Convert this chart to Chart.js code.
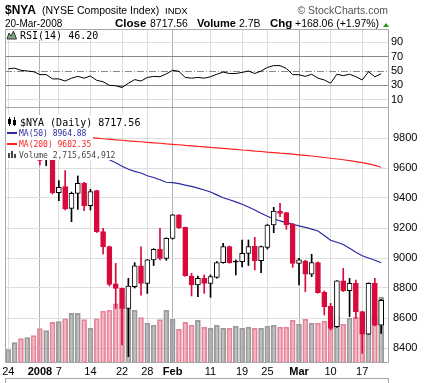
<!DOCTYPE html>
<html>
<head>
<meta charset="utf-8">
<script src="https://cdn.jsdelivr.net/npm/chart.js@4.4.0/dist/chart.umd.min.js"></script>
<style>
  html, body { margin: 0; padding: 0; background: #fff; width: 427px; height: 383px; overflow: hidden; }
  #rsi { position: absolute; left: 0; top: 0; }
  #price { position: absolute; left: 0; top: 108px; }
</style>
</head>
<body>
<canvas id="rsi" width="427" height="108"></canvas>
<canvas id="price" width="427" height="275"></canvas>
<script>
// trading days 24-Dec-2007 .. 20-Mar-2008
const days = ['Dec 24','Dec 26','Dec 27','Dec 28','Dec 31','Jan 2','Jan 3','Jan 4','Jan 7','Jan 8',
  'Jan 9','Jan 10','Jan 11','Jan 14','Jan 15','Jan 16','Jan 17','Jan 18','Jan 22','Jan 23',
  'Jan 24','Jan 25','Jan 28','Jan 29','Jan 30','Jan 31','Feb 1','Feb 4','Feb 5','Feb 6',
  'Feb 7','Feb 8','Feb 11','Feb 12','Feb 13','Feb 14','Feb 15','Feb 19','Feb 20','Feb 21',
  'Feb 22','Feb 25','Feb 26','Feb 27','Feb 28','Feb 29','Mar 3','Mar 4','Mar 5','Mar 6',
  'Mar 7','Mar 10','Mar 11','Mar 12','Mar 13','Mar 14','Mar 17','Mar 18','Mar 19','Mar 20'];

const opens = [9860,9880,9895,9770,9800,9740,9665,9653,9436,9476,
  9331,9431,9498,9349,9449,9176,9076,8827,8798,8664,
  8809,8947,8831,8987,9058,8998,9131,9287,9204,8880,
  8820,8864,8831,8871,8969,9076,8980,8976,9031,9080,
  8982,9071,9220,9313,9302,9227,8964,8980,8893,8969,
  8771,8680,8542,8847,8782,8831,8642,8493,8831,8553];
const highs = [9905,9915,9900,9815,9805,9745,9700,9660,9516,9582,
  9440,9547,9505,9458,9452,9198,9080,8964,8800,8864,
  8969,9075,8990,9062,9198,9135,9290,9290,9206,8898,
  8880,8887,8887,8976,9098,9080,8987,9120,9120,9138,
  9080,9225,9338,9364,9305,9230,8998,8985,9025,8975,
  8780,8698,8850,8931,8864,8853,8645,8835,8864,8724];
const lows = [9840,9870,9750,9750,9730,9620,9615,9427,9382,9320,
  9242,9324,9316,9320,9170,9027,8813,8664,8420,8342,
  8800,8753,8764,8950,8987,8985,9125,9195,8878,8747,
  8742,8764,8738,8865,8965,8965,8887,8940,8950,8920,
  8902,9060,9169,9276,9191,8938,8820,8776,8876,8765,
  8620,8520,8538,8776,8609,8598,8364,8490,8548,8498];
const closes = [9880,9900,9760,9800,9740,9650,9690,9436,9471,9327,
  9431,9498,9349,9442,9176,9076,8824,8798,8664,8813,
  8947,8831,8987,9058,8998,9131,9287,9202,8880,8820,
  8864,8831,8876,8970,9076,8969,8972,9031,9076,8982,
  9076,9220,9313,9298,9220,8964,8987,8893,8969,8769,
  8676,8531,8847,8782,8831,8642,8493,8831,8553,8717.56];
// volume in billions of shares
const volumes = [0.55,0.84,1.01,1.05,1.13,1.42,1.34,1.68,1.71,1.83,
  2.05,2.05,1.79,1.43,1.83,2.14,2.18,2.45,2.31,2.80,
  2.18,1.88,1.65,1.56,1.79,2.18,1.81,1.39,1.68,1.56,
  1.76,1.48,1.43,1.56,1.43,1.43,1.52,1.43,1.48,1.43,
  1.43,1.52,1.56,1.48,1.48,1.76,1.60,1.81,1.64,1.64,
  1.72,1.68,1.93,1.60,1.85,1.89,1.89,1.97,1.80,2.72];
const ma50 = [9850,9845,9840,9832,9825,9818,9808,9798,9785,9772,
  9760,9746,9732,9716,9697,9676,9655,9635,9612,9592,
  9578,9567,9548,9537,9522,9505,9503,9496,9486,9478,
  9466,9453,9440,9421,9402,9388,9374,9358,9340,9320,
  9298,9278,9262,9247,9236,9225,9214,9204,9192,9180,
  9150,9118,9105,9090,9065,9038,9015,9000,8985,8968];
const ma200 = [9846,9843,9840,9837,9834,9830,9827,9823,9820,9817,
  9814,9811,9807,9803,9799,9795,9792,9788,9785,9781,
  9778,9775,9771,9768,9765,9761,9758,9755,9751,9748,
  9744,9741,9737,9734,9731,9727,9724,9720,9717,9713,
  9710,9706,9703,9699,9696,9692,9688,9684,9680,9675,
  9670,9665,9660,9655,9649,9643,9636,9627,9617,9605];
const rsi14 = [53,54,51,50,49,45,45,39,39,36,
  40,42.5,40,43,37,35,30,29.5,27,33,
  38,36,41,42.5,42,46,51,49.5,41,40,
  41,40,42,45.5,48.5,46.5,46.5,48,50,46.5,
  50,55,57.5,57.5,53.5,45,44.8,42.5,45.5,40,
  37.5,33,45.5,43.5,45.5,42,37.5,49,42,46.2];

const tickIdx = [0,5,8,13,18,22,26,32,37,41,46,51,56];
const tickLabels = ['24','2008','7','14','22','28','Feb','11','19','25','Mar','10','17'];
const boldLabels = ['2008','Feb','Mar'];
const priceTicks = [8400,8600,8800,9000,9200,9400,9600,9800];
const rsiTicks = [10,20,30,40,50,60,70,80,90,100];
const rsiLabelled = [10,30,50,70,90];
const volTicks = [1,2,3];

const RED = '#d80a3c';
const FRAME = '#a8a8a8';
const GRID = '#dedede';
const GRID_DARK = '#b4b4b4';
const SANS = '"Liberation Sans", Arial, sans-serif';
const MONO = '"DejaVu Sans Mono", monospace';
const X_MIN = -0.52, X_MAX = 60.24;

const up = closes.map((c, i) => i === 0 ? true : c >= closes[i - 1]);
const monthIdx = tickIdx.filter((v, i) => boldLabels.includes(tickLabels[i]));

function tickVal(ctx) { return ctx && ctx.tick ? ctx.tick.value : null; }

function xAxis(showLabels) {
  return {
    type: 'linear', min: X_MIN, max: X_MAX, offset: false,
    afterBuildTicks: s => { s.ticks = tickIdx.map(v => ({ value: v })); },
    afterFit: s => { s.height = showLabels ? 20 : 0; s.paddingLeft = 0; s.paddingRight = 0; },
    border: { display: false },
    grid: { offset: false, color: ctx => monthIdx.includes(tickVal(ctx)) ? GRID_DARK : GRID, drawTicks: false },
    ticks: {
      display: showLabels, autoSkip: false, maxRotation: 0, padding: 2, color: '#000',
      callback: v => tickLabels[tickIdx.indexOf(v)],
      font: ctx => ({ family: SANS, size: 11,
        weight: boldLabels.includes(tickLabels[tickIdx.indexOf(tickVal(ctx))]) ? 'bold' : 'normal' })
    }
  };
}

// ---------- header + RSI panel ----------
const rsiDecor = {
  id: 'rsiDecor',
  beforeDatasetsDraw(chart) {
    const { ctx, chartArea: a } = chart;
    const py = Math.round(chart.scales.y.getPixelForValue(50)) + 0.5;
    ctx.save();
    ctx.strokeStyle = '#8a8a8a';
    ctx.setLineDash([7, 2, 1, 2]);
    ctx.beginPath(); ctx.moveTo(a.left, py); ctx.lineTo(a.right, py); ctx.stroke();
    ctx.restore();
  },
  afterDraw(chart) {
    const { ctx, chartArea: a } = chart;
    ctx.save();
    // header
    ctx.fillStyle = '#000';
    ctx.font = 'bold 12px ' + SANS; ctx.fillText('$NYA', 5, 14);
    ctx.font = '10.5px ' + SANS; ctx.fillText('(NYSE Composite Index)', 42, 14);
    ctx.font = '9.5px ' + SANS; ctx.fillText('INDX', 165, 14);
    ctx.fillStyle = '#555'; ctx.textAlign = 'right';
    ctx.font = '10.5px ' + SANS; ctx.fillText('\u00A9 StockCharts.com', 388, 14);
    ctx.textAlign = 'left'; ctx.fillStyle = '#000';
    ctx.font = '10px ' + SANS; ctx.fillText('20-Mar-2008', 5, 27);
    ctx.font = 'bold 11.5px ' + SANS; ctx.fillText('Close', 115, 27);
    ctx.font = '10.5px ' + SANS; ctx.fillText('8717.56', 150, 27);
    ctx.font = 'bold 11px ' + SANS; ctx.fillText('Volume', 197, 27);
    ctx.font = '10.5px ' + SANS; ctx.fillText('2.7B', 239, 27);
    ctx.font = 'bold 11.5px ' + SANS; ctx.fillText('Chg', 270, 27);
    ctx.font = '10.5px ' + SANS; ctx.fillText('+168.06 (+1.97%)', 295, 27);
    ctx.fillStyle = '#1f9a1f';
    ctx.beginPath(); ctx.moveTo(383, 27); ctx.lineTo(389, 27); ctx.lineTo(386, 23); ctx.closePath(); ctx.fill();
    // legend
    ctx.fillStyle = '#fff'; ctx.fillRect(6, 30, 96, 10);
    ctx.fillStyle = '#7ea57e'; ctx.strokeStyle = '#333';
    ctx.beginPath();
    ctx.moveTo(7, 39); ctx.lineTo(9, 33); ctx.lineTo(11, 36); ctx.lineTo(13.5, 31); ctx.lineTo(16.5, 39); ctx.closePath();
    ctx.fill(); ctx.stroke();
    ctx.fillStyle = '#000'; ctx.font = '10px ' + MONO;
    ctx.fillText('RSI(14) 46.20', 20, 39);
    // frame
    ctx.strokeStyle = FRAME; ctx.lineWidth = 1;
    ctx.strokeRect(a.left + 0.5, a.top + 0.5, a.right - a.left - 1, a.bottom - a.top - 1);
    ctx.restore();
  }
};

new Chart(document.getElementById('rsi'), {
  type: 'line',
  data: {
    datasets: [{
      data: rsi14.map((v, i) => ({ x: i, y: v })),
      borderColor: '#000', borderWidth: 1, pointRadius: 0, tension: 0,
      fill: { target: { value: 30 }, above: 'rgba(0,0,0,0)', below: '#b08c8c' }
    }]
  },
  options: {
    responsive: false, animation: false,
    layout: { padding: { left: 5, top: 29, right: 0, bottom: 0 } },
    plugins: { legend: { display: false }, tooltip: { enabled: false } },
    scales: {
      x: xAxis(false),
      y: {
        position: 'right', min: -1.57, max: 108.54,
        afterBuildTicks: s => { s.ticks = rsiTicks.map(v => ({ value: v })); },
        afterFit: s => { s.width = 38; s.paddingTop = 0; s.paddingBottom = 0; },
        border: { display: false },
        grid: { drawTicks: false,
          color: ctx => {
            const v = tickVal(ctx);
            return v === 50 ? 'rgba(0,0,0,0)' : (v === 30 || v === 70) ? '#8a8a8a' : GRID;
          } },
        ticks: { padding: 2, color: '#000', font: { family: SANS, size: 11 },
          callback: v => rsiLabelled.includes(v) ? String(v) : '' }
      }
    }
  },
  plugins: [rsiDecor]
});

// ---------- price / volume panel ----------
const priceDecor = {
  id: 'priceDecor',
  afterDatasetsDraw(chart) {
    const { ctx, chartArea: a } = chart;
    ctx.save();
    // legend rows with white backing
    ctx.fillStyle = '#fff';
    ctx.fillRect(6, 7, 134, 13);
    ctx.fillRect(6, 20, 87, 11);
    ctx.fillRect(6, 31, 89, 11);
    ctx.fillRect(6, 42, 109, 10);
    // candle icon
    ctx.strokeStyle = '#000'; ctx.fillStyle = '#000'; ctx.lineWidth = 1;
    ctx.beginPath(); ctx.moveTo(9.5, 9); ctx.lineTo(9.5, 18); ctx.moveTo(14.5, 9); ctx.lineTo(14.5, 18); ctx.stroke();
    ctx.fillRect(8, 11, 3, 5); ctx.strokeRect(13.5, 12.5, 2, 4);
    ctx.font = '10px ' + MONO; ctx.fillText('$NYA (Daily) 8717.56', 20, 17.5);
    ctx.font = '8px ' + MONO;
    ctx.fillStyle = '#2a2aa0'; ctx.fillRect(7, 24, 10, 2);
    ctx.fillText('MA(50) 8964.88', 19, 28);
    ctx.fillStyle = '#ff2020'; ctx.fillRect(7, 35, 10, 2);
    ctx.fillText('MA(200) 9602.35', 19, 39);
    ctx.fillStyle = '#444';
    ctx.fillRect(8, 45, 2, 5); ctx.fillRect(11, 43, 2, 7); ctx.fillRect(14, 46, 2, 4);
    ctx.fillText('Volume 2,715,654,912', 19, 49.5);
    // frame
    ctx.strokeStyle = FRAME;
    ctx.beginPath();
    ctx.moveTo(a.left + 0.5, a.top); ctx.lineTo(a.left + 0.5, a.bottom - 0.5);
    ctx.lineTo(a.right - 0.5, a.bottom - 0.5); ctx.lineTo(a.right - 0.5, a.top);
    ctx.stroke();
    // next panel, cut off at the bottom of the picture
    ctx.beginPath();
    ctx.moveTo(a.left, 270.5); ctx.lineTo(a.right, 270.5);
    ctx.moveTo(a.left + 0.5, 270); ctx.lineTo(a.left + 0.5, 275);
    ctx.moveTo(a.right - 0.5, 270); ctx.lineTo(a.right - 0.5, 275);
    ctx.stroke();
    ctx.textBaseline = 'top'; ctx.font = '10px ' + MONO;
    ctx.fillStyle = '#000'; ctx.fillText('MACD(12,26,9) -116.947,', 20, 276);
    ctx.fillStyle = RED; ctx.fillText('-86.211', 173, 276);
    ctx.fillStyle = '#1e9be0'; ctx.fillText('-30.736', 227, 276);
    ctx.restore();
  }
};

new Chart(document.getElementById('price'), {
  type: 'bar',
  data: {
    datasets: [
      {
        type: 'bar', yAxisID: 'vol', order: 5, grouped: false, barThickness: 5,
        data: volumes.map((v, i) => ({ x: i, y: v })),
        backgroundColor: up.map(u => u ? 'rgba(140,140,140,0.55)' : 'rgba(232,110,136,0.5)'),
        borderColor: up.map(u => u ? '#9c9c9c' : '#e48a9c'),
        borderWidth: 1, borderSkipped: false
      },
      {
        type: 'line', yAxisID: 'y', order: 4,
        data: ma200.map((v, i) => ({ x: i, y: v })),
        borderColor: '#ff2020', borderWidth: 1.2, pointRadius: 0, tension: 0
      },
      {
        type: 'line', yAxisID: 'y', order: 3,
        data: ma50.map((v, i) => ({ x: i, y: v })),
        borderColor: '#2a2aa0', borderWidth: 1.2, pointRadius: 0, tension: 0
      },
      {
        type: 'bar', yAxisID: 'y', order: 2, grouped: false, barThickness: 1,
        data: lows.map((l, i) => ({ x: i, y: [l, highs[i]] })),
        backgroundColor: up.map(u => u ? '#000' : RED), borderWidth: 0
      },
      {
        type: 'bar', yAxisID: 'y', order: 1, grouped: false, barThickness: 5,
        data: opens.map((o, i) => ({ x: i, y: [Math.min(o, closes[i]), Math.max(o, closes[i])] })),
        backgroundColor: closes.map((c, i) => c > opens[i] ? '#fff' : (up[i] ? '#000' : RED)),
        borderColor: up.map(u => u ? '#000' : RED),
        borderWidth: 1, borderSkipped: false
      }
    ]
  },
  options: {
    responsive: false, animation: false,
    layout: { padding: 0 },
    plugins: { legend: { display: false }, tooltip: { enabled: false } },
    scales: {
      x: xAxis(true),
      y: {
        position: 'right', min: 8300, max: 10000,
        afterBuildTicks: s => { s.ticks = priceTicks.map(v => ({ value: v })); },
        afterFit: s => { s.width = 38; s.paddingTop = 0; s.paddingBottom = 0; },
        border: { display: false },
        grid: { color: GRID, drawTicks: false },
        ticks: { padding: 4, color: '#000', font: { family: SANS, size: 11 }, callback: v => String(v) }
      },
      vol: {
        position: 'left', min: 0, max: 10.54,
        afterBuildTicks: s => { s.ticks = volTicks.map(v => ({ value: v })); },
        afterFit: s => { s.width = 5; s.paddingTop = 0; s.paddingBottom = 0; },
        border: { display: false },
        grid: { display: false },
        ticks: { padding: 0, color: '#000', font: { family: SANS, size: 11 }, callback: v => v + 'B' }
      }
    }
  },
  plugins: [priceDecor]
});
</script>
</body>
</html>
